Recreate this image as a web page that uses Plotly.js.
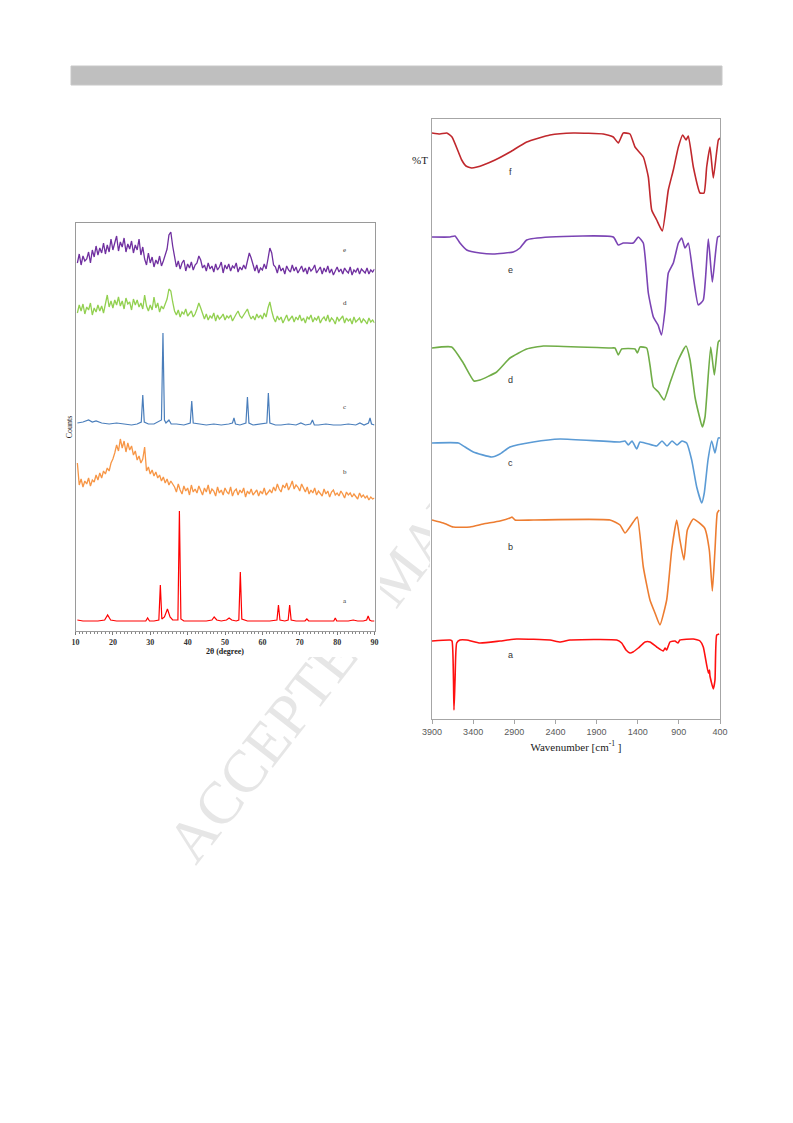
<!DOCTYPE html>
<html>
<head>
<meta charset="utf-8">
<script src="https://cdn.plot.ly/plotly-3.0.1.min.js"></script>
<style>
html,body{margin:0;padding:0;background:#fff;width:793px;height:1123px;overflow:hidden;position:relative}
#wm{position:absolute;left:180px;top:824px;font-family:'Liberation Serif','Times New Roman',serif;font-size:60px;line-height:60px;color:#e6e6e6;white-space:nowrap;transform-origin:0 50%;transform:rotate(-52deg);z-index:0}
.img{position:absolute;background:#fff;z-index:1}
#chart{position:absolute;left:0;top:0;width:793px;height:1123px;z-index:2}
</style>
</head>
<body>
<div id="wm">ACCEPTED MANUSCRIPT</div>
<div class="img" style="left:55px;top:210px;width:325px;height:447px"></div>
<div class="img" style="left:430px;top:112px;width:298px;height:650px"></div>
<div id="chart"></div>
<script>
// ---------- XRD (left panel) ----------
const xrdAngles = [
 10.5,11,11.5,12,12.5,13,13.5,14,14.5,15,15.5,16,16.5,17,17.5,18,18.5,19,19.5,20,
 20.5,21,21.5,22,22.5,23,23.5,24,24.5,25,25.5,26,26.5,27,27.5,28,28.5,29,29.5,30,
 30.5,31,31.5,32,32.5,33,33.5,34,34.5,35,35.5,36,36.5,37,37.5,38,38.5,39,39.5,40,
 40.5,41,41.5,42,42.5,43,43.5,44,44.5,45,45.5,46,46.5,47,47.5,48,48.5,49,49.5,50,
 50.5,51,51.5,52,52.5,53,53.5,54,54.5,55,55.5,56,56.5,57,57.5,58,58.5,59,59.5,60,
 60.5,61,61.5,62,62.5,63,63.5,64,64.5,65,65.5,66,66.5,67,67.5,68,68.5,69,69.5,70,
 70.5,71,71.5,72,72.5,73,73.5,74,74.5,75,75.5,76,76.5,77,77.5,78,78.5,79,79.5,80,
 80.5,81,81.5,82,82.5,83,83.5,84,84.5,85,85.5,86,86.5,87,87.5,88,88.5,89,89.5,90
];
const xrdE = [
 368,377,366,375,370,372,379,368,381,374,385,376,383,378,388,377,386,379,392,381,
 388,395,380,389,384,393,379,387,382,390,378,386,381,392,376,384,372,366,378,368,
 374,364,371,367,375,365,370,376,382,396,399,385,372,364,370,362,368,371,360,367,
 363,369,361,366,368,375,371,363,366,360,368,362,365,359,367,361,364,369,358,366,
 362,367,360,365,363,368,359,364,361,366,362,369,378,373,365,360,366,358,363,361,
 367,362,372,383,378,366,364,358,366,360,363,357,365,361,359,366,360,364,358,362,
 365,359,363,357,364,360,362,366,358,361,364,357,363,359,365,358,362,356,361,364,
 359,362,357,363,360,358,364,356,361,359,363,357,362,360,358,363,357,361,359,362
];
const xrdD = [
 318,326,320,327,317,324,321,328,316,323,319,326,320,325,318,327,336,324,330,323,
 331,326,334,325,330,322,333,327,329,321,332,326,331,324,328,322,336,325,320,326,
 321,334,323,328,319,325,322,327,332,342,340,329,320,316,321,314,319,317,322,315,
 318,320,314,317,322,328,323,317,312,317,311,315,313,318,310,316,312,314,317,311,
 315,313,316,310,314,317,320,315,313,316,319,322,316,312,315,311,317,313,316,312,
 318,314,323,329,320,313,309,315,311,314,308,313,316,310,312,315,309,314,311,316,
 310,313,308,314,312,316,309,313,311,315,308,312,314,310,316,309,313,311,307,314,
 310,312,315,308,313,310,312,307,314,309,311,313,308,312,310,307,313,309,311,308
];
const xrdB = [
 168,146,152,144,150,147,153,145,151,149,156,151,158,153,160,157,163,160,168,172,
 178,186,180,192,183,190,179,188,181,185,176,180,171,175,168,172,184,160,164,157,
 161,155,159,153,156,150,154,148,152,146,150,147,144,139,147,141,137,145,140,143,
 136,146,139,142,138,145,141,136,143,139,146,137,142,140,135,144,138,141,136,143,
 139,137,144,135,140,142,136,141,138,143,134,140,137,142,136,139,141,135,140,137,
 143,136,139,141,138,144,140,147,142,139,146,143,148,141,145,150,142,146,144,140,
 147,143,139,144,137,141,138,143,136,140,138,135,142,137,140,134,139,141,136,138,
 135,140,137,133,139,136,138,134,137,135,132,138,134,136,133,135,131,134,132,133
];
const xrdCAngles = [
 10.5,12,13.5,14.5,15.5, 17,19,21,23,25, 26.5,27.6,28.0,28.4,29.5, 31,33.0,33.4,33.8,34.2,
 35.0,35.6,37,39,40.7, 41.1,41.5,43,45,47, 49,51,52.0,52.4,52.8, 54,55.6,56.0,56.4,57.5,
 59,61.2,61.6,62.0,63.5, 65,67,69,70.3,71.5, 72.9,73.4,73.9,75,77, 79,81,83,85,86.1,
 87.2,88.4,88.8,89.2,90
];
const xrdC = [
 208,209,211,209,210, 208,207,208,207,206, 207,209,236,209,207, 207,211,298,211,208,
 211,207,207,206,208, 230,208,207,206,207, 206,207,208,213,207, 206,208,234,208,206,
 207,208,238,208,206, 206,207,206,208,206, 207,211,206,206,207, 206,206,207,206,208,
 206,208,213,207,206
];
const xrdAAngles = [
 10.5,12,14,16,17.8, 18.6,19.4,21,23,25, 27,28.8,29.3,29.8,31, 32.3,32.7,33.1,33.8,34.6,
 35.3,36,37.4,37.8,38.2, 39,41,43,45,46.5, 47.1,47.8,49,50.4,51.1, 51.8,53,53.7,54.1,54.5,
 56,58,60,62,63.9, 64.3,64.7,66,66.9,67.3, 67.7,69,71.4,71.9,72.4, 74,76,78,79.1,79.5,
 79.9,81,83,84.3,85.5, 87,87.9,88.3,88.7,89.2, 90
];
const xrdA = [
 11,10,10,10,11, 16,11,10,10,10, 10,10,13,10,10, 11,46,12,14,22,
 14,11,11,120,12, 10,10,10,10,11, 14,11,10,11,13, 11,10,11,59,12,
 10,10,10,10,11, 26,11,10,11,26, 11,10,10,12,10, 10,10,10,10,13,
 10,10,10,11,10, 10,11,15,11,10, 10
];
const xrdTicks = [10,20,30,40,50,60,70,80,90];
const xrdLabels = ['e','d','c','b','a'];
const xrdLabelY = [381,328,224,159,30];

// ---------- FTIR (right panel) ----------
const ftirTicks = [3900,3400,2900,2400,1900,1400,900,400];
const fWn = [3900,3803,3721,3657,3539,3487,3418,3353,3277,3134,2952,2749,2466,2183,1818,1697,1636,1575,1494,1433,1332,1271,1230,1169,1101,1028,967,906,853,813,785,724,643,594,562,522,481,420,400];
const fT  = [587,586,587,583,560,554,552,553,555,560,568,578,585,587,586,583,577,587,586,573,563,543,510,500,489,530,550,573,585,580,584,553,527,527,553,573,542,580,582];
const eWn = [3900,3681,3620,3560,3478,3317,3155,2912,2831,2749,2466,1697,1636,1575,1454,1393,1332,1271,1210,1153,1111,1068,1028,967,906,865,825,785,724,664,603,542,493,428,400];
const eT  = [483,483,484,477,470,467,466,468,472,480,483,483,475,477,477,483,477,427,403,395,385,410,447,457,477,482,472,477,443,415,420,481,438,483,484];
const dWn = [3900,3661,3520,3390,3317,3114,2952,2749,2547,1737,1676,1636,1595,1433,1404,1372,1291,1251,1210,1149,1080,1008,907,813,764,704,655,615,582,513,469,421,400];
const dT  = [372,373,357,339,340,348,362,371,374,372,372,365,371,371,367,373,372,355,333,328,320,337,360,374,360,323,305,293,303,373,345,378,380];
const cWn = [3900,3580,3499,3398,3174,3074,2952,2669,2344,1615,1554,1514,1469,1412,1372,1169,1105,1044,983,922,862,805,744,683,622,591,546,501,461,421,400];
const cT  = [277,277,273,268,263,266,273,278,281,278,279,275,279,271,278,274,279,274,279,275,279,277,260,233,217,227,260,279,267,282,282];
const bWn = [3900,3763,3730,3641,3438,3277,3074,2952,2928,2891,2669,1737,1615,1554,1454,1405,1332,1251,1190,1130,1048,987,926,887,838,797,724,587,530,493,461,433,410];
const bT  = [200,197,196,193,193,196,199,202,203,200,200,200,195,187,198,203,153,120,107,95,120,170,200,180,160,190,201,192,170,129,170,207,210];
const aWn = [3900,3681,3657,3639,3633,3620,3600,3560,3478,3317,3074,2871,2466,2344,2223,1655,1595,1542,1494,1457,1393,1311,1251,1169,1089,1068,1048,1008,947,910,887,724,643,603,542,528,522,481,461,440,410];
const aT  = [79,80,79,40,10,40,77,80,80,77,79,81,80,78,80,80,77,70,67,68,72,78,78,73,69,72,70,78,79,77,80,81,79,73,47,50,44,31,40,85,86];
const ftirLabels = ['f','e','d','c','b','a'];
const ftirLabelY = [548,450,340,257,173,65];

// ---------- build ----------
const W = 793, H = 1123;
const px = v => v / W, py = v => 1 - v / H;

const xrdCol = {e:'#7030A0', d:'#92D050', c:'#4A7EBB', b:'#F79646', a:'#FF0000'};
const ftCol = {f:'#C0282D', e:'#7B44B4', d:'#70AD47', c:'#5B9BD5', b:'#ED7D31', a:'#FF1010'};
const ftLine = c => ({color:c, width:1.6, shape:'spline', smoothing:0.45});

const traces = [
  {x: xrdAngles, y: xrdE, xaxis:'x', yaxis:'y', mode:'lines', line:{color:xrdCol.e, width:1.3}},
  {x: xrdAngles, y: xrdD, xaxis:'x', yaxis:'y', mode:'lines', line:{color:xrdCol.d, width:1.3}},
  {x: xrdCAngles, y: xrdC, xaxis:'x', yaxis:'y', mode:'lines', line:{color:xrdCol.c, width:1.2}},
  {x: xrdAngles, y: xrdB, xaxis:'x', yaxis:'y', mode:'lines', line:{color:xrdCol.b, width:1.3}},
  {x: xrdAAngles, y: xrdA, xaxis:'x', yaxis:'y', mode:'lines', line:{color:xrdCol.a, width:1.2}},
  {x: fWn, y: fT, xaxis:'x2', yaxis:'y2', mode:'lines', line: ftLine(ftCol.f)},
  {x: eWn, y: eT, xaxis:'x2', yaxis:'y2', mode:'lines', line: ftLine(ftCol.e)},
  {x: dWn, y: dT, xaxis:'x2', yaxis:'y2', mode:'lines', line: ftLine(ftCol.d)},
  {x: cWn, y: cT, xaxis:'x2', yaxis:'y2', mode:'lines', line: ftLine(ftCol.c)},
  {x: bWn, y: bT, xaxis:'x2', yaxis:'y2', mode:'lines', line: ftLine(ftCol.b)},
  {x: aWn, y: aT, xaxis:'x2', yaxis:'y2', mode:'lines', line: ftLine(ftCol.a)}
];

const annotations = [];
xrdLabels.forEach((t, i) => annotations.push({
  text: t, x: 82.1, y: xrdLabelY[i], xref:'x', yref:'y', showarrow:false,
  font:{family:'Liberation Serif', size:7, color:'#333'}
}));
ftirLabels.forEach((t, i) => annotations.push({
  text: t, x: 2940, y: ftirLabelY[i], xref:'x2', yref:'y2', showarrow:false,
  font:{family:'Liberation Sans', size:9, color:'#333'}
}));
annotations.push({
  text:'%T', x: px(430), y: py(160), xref:'paper', yref:'paper', xanchor:'right', yanchor:'middle',
  showarrow:false, font:{family:'Liberation Serif', size:11, color:'#222'}
});

const layout = {
  width: W, height: H,
  margin: {l:0, r:0, t:0, b:0, pad:0},
  paper_bgcolor: 'rgba(0,0,0,0)',
  plot_bgcolor: 'rgba(0,0,0,0)',
  showlegend: false,
  font: {family:'Liberation Serif', color:'#333'},
  xaxis: {
    domain: [px(75.5), px(374.5)], anchor:'y', range:[10, 90],
    showline:true, mirror:true, linecolor:'#9a9a9a', linewidth:1,
    showgrid:false, zeroline:false,
    tickmode:'array', tickvals: xrdTicks,
    ticks:'outside', ticklen:3, tickcolor:'#777', tickwidth:1,
    tickfont:{family:'Liberation Serif', size:8, color:'#333', weight:'bold'},
    minor:{dtick:1, tick0:10, ticks:'outside', ticklen:2, tickcolor:'#888', showgrid:false},
    title:{text:'2θ (degree)', font:{family:'Liberation Serif', size:8, color:'#222', weight:'bold'}, standoff:0}
  },
  yaxis: {
    domain: [py(631), py(223)], anchor:'x', range:[0, 408],
    showline:true, mirror:true, linecolor:'#9a9a9a', linewidth:1,
    showgrid:false, zeroline:false, showticklabels:false, ticks:'',
    title:{text:'Counts', font:{family:'Liberation Serif', size:8, color:'#222'}, standoff:0}
  },
  xaxis2: {
    domain: [px(432), px(720)], anchor:'y2', range:[3900, 400],
    showline:true, mirror:true, linecolor:'#a6a6a6', linewidth:1,
    showgrid:false, zeroline:false,
    tickmode:'array', tickvals: ftirTicks,
    ticks:'outside', ticklen:4, tickcolor:'#a6a6a6',
    tickfont:{family:'Liberation Sans', size:9, color:'#595959'},
    title:{text:'Wavenumber [cm<sup>-1</sup> ]', font:{family:'Liberation Serif', size:11, color:'#222'}, standoff:7}
  },
  yaxis2: {
    domain: [py(719), py(119)], anchor:'x2', range:[1, 601],
    showline:true, mirror:true, linecolor:'#a6a6a6', linewidth:1,
    showgrid:false, zeroline:false, showticklabels:false, ticks:''
  },
  shapes: [
    {type:'rect', xref:'paper', yref:'paper', x0:px(71), x1:px(722), y0:py(85), y1:py(66),
     fillcolor:'#bfbfbf', line:{color:'#c8c8c8', width:1}, layer:'below'}
  ],
  annotations: annotations
};

Plotly.newPlot('chart', traces, layout, {staticPlot:true, displayModeBar:false});
</script>
</body>
</html>
